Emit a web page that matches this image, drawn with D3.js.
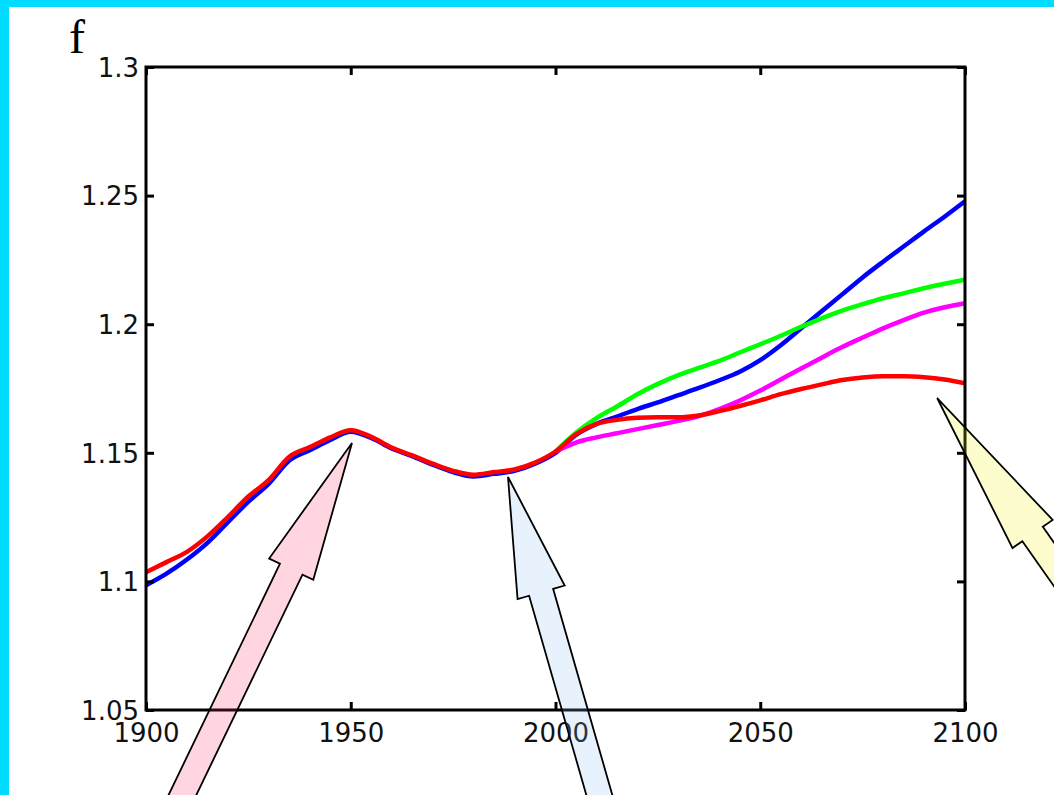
<!DOCTYPE html>
<html>
<head>
<meta charset="utf-8">
<script src="https://cdn.jsdelivr.net/npm/d3@7/dist/d3.min.js"></script>
<style>
  html, body { margin: 0; padding: 0; background: #fff; }
  svg { display: block; }
</style>
</head>
<body>
<svg id="chart" width="1054" height="795"></svg>
<script>
// Observed record, 1900–2000
const histYears = [1900,1905,1910,1915,1920,1925,1930,1935,1940,1945,1950,1955,1960,1965,1970,1975,1980,1985,1990,1995,2000];
const histBlue  = [1.0985,1.1030,1.1085,1.1150,1.1230,1.1310,1.1380,1.1470,1.1510,1.1550,1.1582,1.1558,1.1517,1.1487,1.1454,1.1425,1.1408,1.1418,1.1430,1.1458,1.1500];
const histRed   = [1.1036,1.1075,1.1115,1.1175,1.1250,1.1330,1.1395,1.1485,1.1522,1.1560,1.1588,1.1562,1.1520,1.1490,1.1458,1.1430,1.1415,1.1425,1.1435,1.1462,1.1505];

// Scenario projections, 2000–2100
const projYears   = [2000,2005,2010,2015,2020,2025,2030,2035,2040,2045,2050,2055,2060,2065,2070,2075,2080,2085,2090,2095,2100];
const projBlue    = [1.1505,1.1570,1.1612,1.1641,1.1670,1.1696,1.1724,1.1752,1.1782,1.1815,1.1860,1.1918,1.1984,1.2050,1.2116,1.2182,1.2243,1.2302,1.2361,1.2418,1.2478];
const projGreen   = [1.1505,1.1578,1.1635,1.1680,1.1728,1.1768,1.1802,1.1830,1.1857,1.1890,1.1922,1.1955,1.1990,1.2023,1.2053,1.2078,1.2101,1.2120,1.2140,1.2157,1.2173];
const projMagenta = [1.1505,1.1540,1.1560,1.1576,1.1592,1.1608,1.1624,1.1643,1.1670,1.1703,1.1742,1.1785,1.1828,1.1870,1.1911,1.1948,1.1984,1.2016,1.2045,1.2066,1.2082];
const projRed     = [1.1505,1.1572,1.1612,1.1628,1.1636,1.1638,1.1638,1.1645,1.1662,1.1682,1.1704,1.1728,1.1748,1.1766,1.1783,1.1793,1.1798,1.1798,1.1794,1.1785,1.1770];

// Axis ticks
const xTicks = [1900, 1950, 2000, 2050, 2100];
const yTicks = [1.05, 1.1, 1.15, 1.2, 1.25, 1.3];
const yTickLabels = ["1.05", "1.1", "1.15", "1.2", "1.25", "1.3"];

// Callout arrows: tip at a point on the curves
const callouts = [
  { year: 1950.3, value: 1.1538, fill: "#ff3366" },
  { year: 1988.4, value: 1.1406, fill: "#8cbef0" },
  { year: 2093.2, value: 1.1713, fill: "#f5f000" }
];

const svg = d3.select("#chart");
const W = 1054, H = 795;

// frame
svg.append("rect").attr("width", W).attr("height", H).attr("fill", "#00dcff");
svg.append("rect").attr("x", 9).attr("y", 7).attr("width", W - 9).attr("height", H - 7).attr("fill", "#fff");

const plot = { left: 146, right: 965, top: 67, bottom: 710 };
const x = d3.scaleLinear().domain([1900, 2100]).range([plot.left, plot.right]);
const y = d3.scaleLinear().domain([1.05, 1.3]).range([plot.bottom, plot.top]);

svg.append("defs").append("clipPath").attr("id", "plotclip")
  .append("rect").attr("x", plot.left).attr("y", plot.top)
  .attr("width", plot.right - plot.left).attr("height", plot.bottom - plot.top);

const line = d3.line().x(d => x(d[0])).y(d => y(d[1])).curve(d3.curveMonotoneX);
const zip = (xs, ys) => xs.map((v, i) => [v, ys[i]]);

const series = [
  { data: zip(histYears, histBlue).concat(zip(projYears, projBlue).slice(1)), color: "#0000ff" },
  { data: zip(projYears, projGreen), color: "#00ff00" },
  { data: zip(projYears, projMagenta), color: "#ff00ff" },
  { data: zip(histYears, histRed).concat(zip(projYears, projRed).slice(1)), color: "#ff0000" }
];

const g = svg.append("g").attr("clip-path", "url(#plotclip)");
g.selectAll("path.series").data(series).enter().append("path")
  .attr("class", "series")
  .attr("d", d => line(d.data))
  .attr("fill", "none")
  .attr("stroke", d => d.color)
  .attr("stroke-width", 4.5)
  .attr("stroke-linejoin", "round");

// axes: box with inward ticks on all four sides
const axisFont = "'DejaVu Sans', Verdana, sans-serif";
const tickLen = 8;
const axisW = 3;

const bottomAxis = d3.axisBottom(x).tickValues(xTicks).tickSize(-tickLen).tickFormat(d3.format("d"));
const topAxis = d3.axisTop(x).tickValues(xTicks).tickSize(-tickLen).tickFormat("");
const leftAxis = d3.axisLeft(y).tickValues(yTicks).tickSize(-tickLen).tickFormat((d, i) => yTickLabels[i]).tickPadding(7);
const rightAxis = d3.axisRight(y).tickValues(yTicks).tickSize(-tickLen).tickFormat("");

function styleAxis(sel) {
  sel.select(".domain").remove();
  sel.selectAll(".tick line").attr("stroke", "#000").attr("stroke-width", axisW);
  sel.selectAll(".tick text").attr("fill", "#111").style("font-family", axisFont).style("font-size", "26px");
}

svg.append("g").attr("transform", `translate(0,${plot.bottom})`).call(bottomAxis).call(styleAxis)
  .selectAll(".tick text").attr("y", 32).attr("dy", 0);
svg.append("g").attr("transform", `translate(0,${plot.top})`).call(topAxis).call(styleAxis);
svg.append("g").attr("transform", `translate(${plot.left},0)`).call(leftAxis).call(styleAxis)
  .selectAll(".tick text").attr("dy", "0.36em");
svg.append("g").attr("transform", `translate(${plot.right},0)`).call(rightAxis).call(styleAxis);

svg.append("rect")
  .attr("x", plot.left).attr("y", plot.top)
  .attr("width", plot.right - plot.left).attr("height", plot.bottom - plot.top)
  .attr("fill", "none").attr("stroke", "#000").attr("stroke-width", axisW);

// panel letter
svg.append("text").attr("x", 69).attr("y", 53)
  .style("font-family", "'Liberation Serif', 'Times New Roman', serif")
  .style("font-size", "48px").attr("fill", "#000").text("f");

// block arrows: direction (unit vector from tip toward tail), head length, widths
const arrowShapes = [
  { ux: -0.434, uy: 0.901, head: 140 },
  { ux: 0.276, uy: 0.961, head: 120 },
  { ux: 0.575, uy: 0.819, head: 166 }
];
const headW = 49, shaftW = 25, shaftLen = 520;

function arrowPath(tx, ty, s) {
  const n = [-s.uy, s.ux];
  const bx = tx + s.ux * s.head, by = ty + s.uy * s.head;
  const ex = tx + s.ux * shaftLen, ey = ty + s.uy * shaftLen;
  const p = [
    [tx, ty],
    [bx + n[0] * headW / 2, by + n[1] * headW / 2],
    [bx + n[0] * shaftW / 2, by + n[1] * shaftW / 2],
    [ex + n[0] * shaftW / 2, ey + n[1] * shaftW / 2],
    [ex - n[0] * shaftW / 2, ey - n[1] * shaftW / 2],
    [bx - n[0] * shaftW / 2, by - n[1] * shaftW / 2],
    [bx - n[0] * headW / 2, by - n[1] * headW / 2]
  ];
  return "M" + p.map(q => q.join(",")).join("L") + "Z";
}

svg.append("g").selectAll("path.callout").data(callouts).enter().append("path")
  .attr("class", "callout")
  .attr("d", (d, i) => arrowPath(x(d.year), y(d.value), arrowShapes[i]))
  .attr("fill", d => d.fill)
  .attr("fill-opacity", 0.2)
  .attr("stroke", "#000")
  .attr("stroke-width", 1.8)
  .attr("stroke-linejoin", "miter");
</script>
</body>
</html>
